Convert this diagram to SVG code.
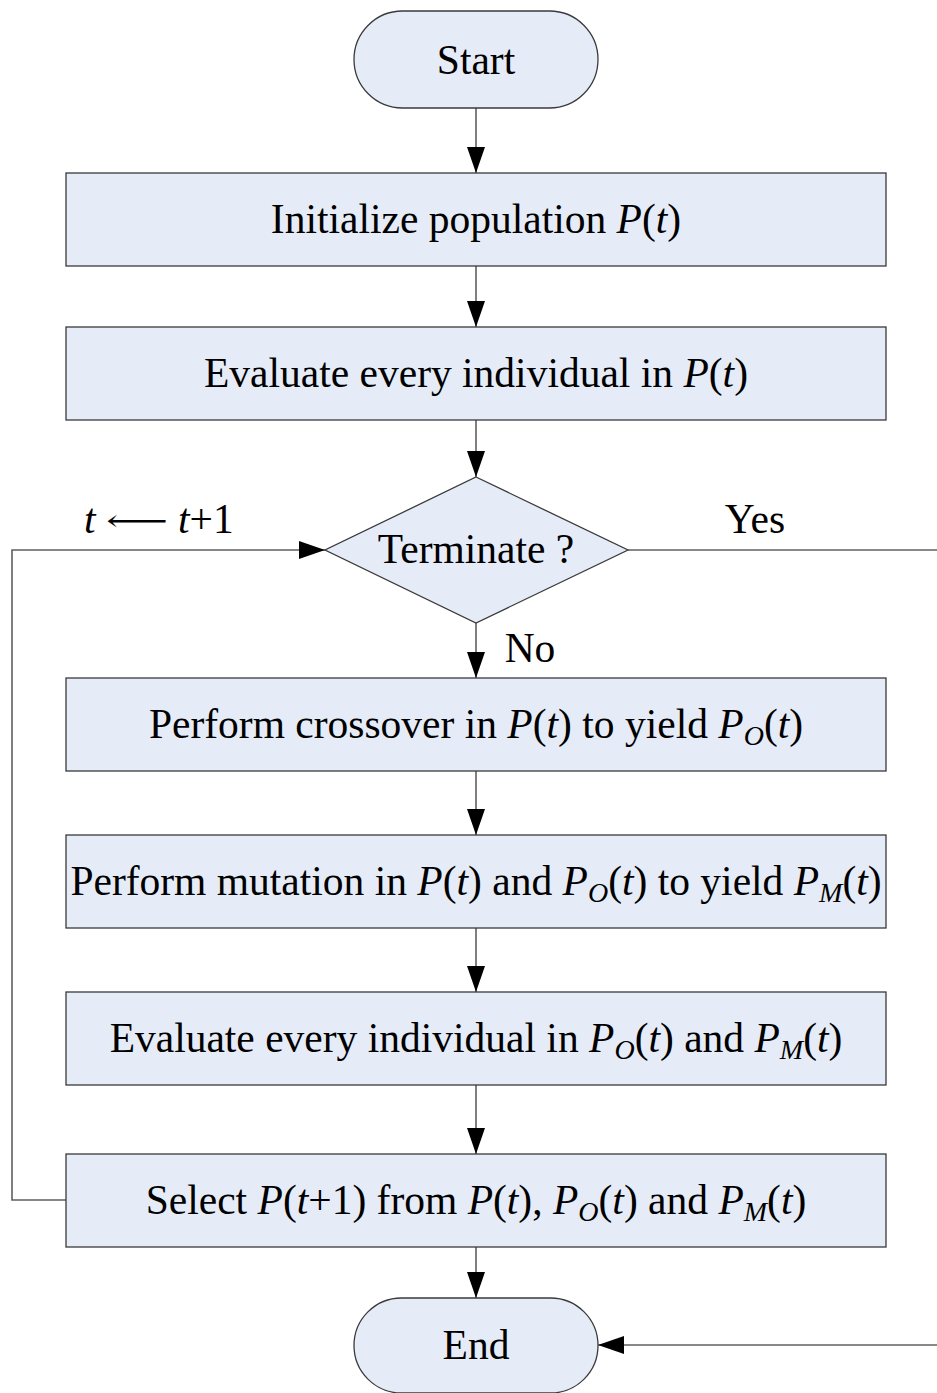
<svg xmlns="http://www.w3.org/2000/svg" width="937" height="1393" viewBox="0 0 937 1393">
<style>
.n{fill:#E6ECF7;stroke:#3a3a3a;stroke-width:1.3}
.t{font-family:"Liberation Serif","Times New Roman",serif;font-size:41.5px;fill:#000;text-anchor:middle}
.s{font-family:"Liberation Serif","Times New Roman",serif;font-size:41.5px;fill:#000}
.i{font-style:italic}
.c{fill:none;stroke:#606060;stroke-width:1.6}
</style>
<defs>
<marker id="ah" markerUnits="userSpaceOnUse" markerWidth="28" markerHeight="20" refX="26" refY="9" orient="auto">
<path d="M0,0 L26,9 L0,18 Z" fill="#000"/>
</marker>
</defs>
<g id="connectors">
<line class="c" x1="476" y1="108" x2="476" y2="173" marker-end="url(#ah)"/>
<line class="c" x1="476" y1="266" x2="476" y2="327" marker-end="url(#ah)"/>
<line class="c" x1="476" y1="420" x2="476" y2="477" marker-end="url(#ah)"/>
<line class="c" x1="476" y1="623" x2="476" y2="678" marker-end="url(#ah)"/>
<line class="c" x1="476" y1="771" x2="476" y2="835" marker-end="url(#ah)"/>
<line class="c" x1="476" y1="928" x2="476" y2="992" marker-end="url(#ah)"/>
<line class="c" x1="476" y1="1085" x2="476" y2="1154" marker-end="url(#ah)"/>
<line class="c" x1="476" y1="1247" x2="476" y2="1298" marker-end="url(#ah)"/>
<polyline class="c" points="66,1200 12,1200 12,550 325,550" marker-end="url(#ah)"/>
<line class="c" x1="628" y1="550" x2="937" y2="550"/>
<line class="c" x1="937" y1="1345" x2="598" y2="1345" marker-end="url(#ah)"/>
<text class="s i" x="84" y="533">t</text>
<text x="106" y="531" font-family="DejaVu Serif" font-size="30" textLength="62" lengthAdjust="spacingAndGlyphs" fill="#000">⟵</text>
<text class="s" x="178" y="533"><tspan class="i">t</tspan>+1</text>
<text class="t" x="755" y="533">Yes</text>
<text class="t" x="530" y="662">No</text>
</g>
<g id="start">
<rect class="n" x="354" y="11" width="244" height="97" rx="48.5"/>
<text class="t" x="476" y="74">Start</text>
</g>
<g id="init">
<rect class="n" x="66" y="173" width="820" height="93"/>
<text class="t" x="476" y="233">Initialize population <tspan class="i">P</tspan>(<tspan class="i">t</tspan>)</text>
</g>
<g id="eval1">
<rect class="n" x="66" y="327" width="820" height="93"/>
<text class="t" x="476" y="387">Evaluate every individual in <tspan class="i">P</tspan>(<tspan class="i">t</tspan>)</text>
</g>
<g id="terminate">
<polygon class="n" points="476,477 628,550 476,623 325,550"/>
<text class="t" x="476" y="563">Terminate ?</text>
</g>
<g id="crossover">
<rect class="n" x="66" y="678" width="820" height="93"/>
<text class="t" x="476" y="738">Perform crossover in <tspan class="i">P</tspan>(<tspan class="i">t</tspan>) to yield <tspan class="i">P</tspan><tspan class="i" font-size="28" dy="7">O</tspan><tspan dy="-7">(</tspan><tspan class="i">t</tspan>)</text>
</g>
<g id="mutation">
<rect class="n" x="66" y="835" width="820" height="93"/>
<text class="t" x="476" y="895">Perform mutation in <tspan class="i">P</tspan>(<tspan class="i">t</tspan>) and <tspan class="i">P</tspan><tspan class="i" font-size="28" dy="7">O</tspan><tspan dy="-7">(</tspan><tspan class="i">t</tspan>) to yield <tspan class="i">P</tspan><tspan class="i" font-size="28" dy="7">M</tspan><tspan dy="-7">(</tspan><tspan class="i">t</tspan>)</text>
</g>
<g id="eval2">
<rect class="n" x="66" y="992" width="820" height="93"/>
<text class="t" x="476" y="1052">Evaluate every individual in <tspan class="i">P</tspan><tspan class="i" font-size="28" dy="7">O</tspan><tspan dy="-7">(</tspan><tspan class="i">t</tspan>) and <tspan class="i">P</tspan><tspan class="i" font-size="28" dy="7">M</tspan><tspan dy="-7">(</tspan><tspan class="i">t</tspan>)</text>
</g>
<g id="select">
<rect class="n" x="66" y="1154" width="820" height="93"/>
<text class="t" x="476" y="1214">Select <tspan class="i">P</tspan>(<tspan class="i">t</tspan>+1) from <tspan class="i">P</tspan>(<tspan class="i">t</tspan>), <tspan class="i">P</tspan><tspan class="i" font-size="28" dy="7">O</tspan><tspan dy="-7">(</tspan><tspan class="i">t</tspan>) and <tspan class="i">P</tspan><tspan class="i" font-size="28" dy="7">M</tspan><tspan dy="-7">(</tspan><tspan class="i">t</tspan>)</text>
</g>
<g id="end">
<rect class="n" x="354" y="1298" width="244" height="95" rx="47.5"/>
<text class="t" x="476" y="1359">End</text>
</g>
</svg>
